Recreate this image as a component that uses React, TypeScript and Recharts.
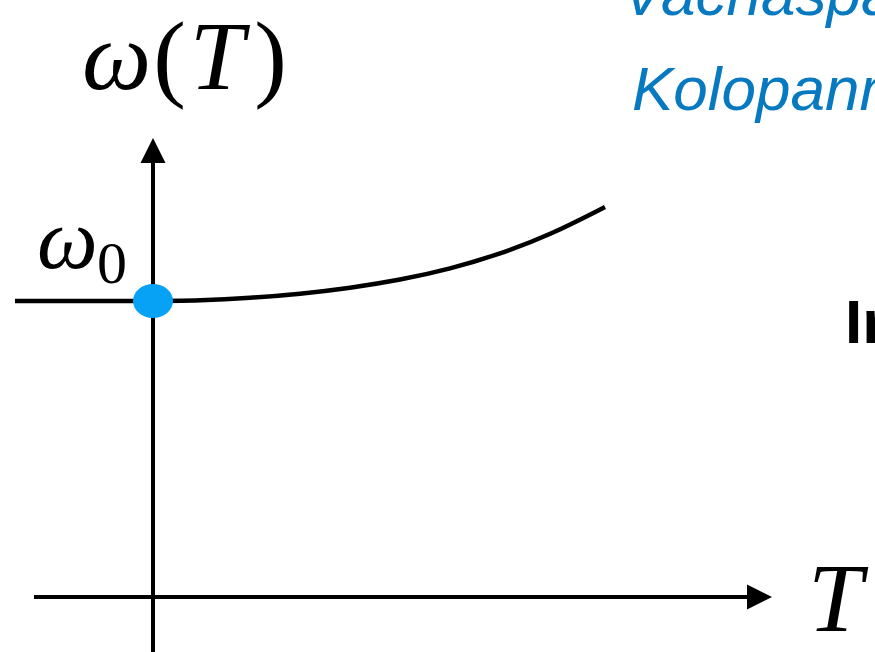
import { LineChart, Line, XAxis, YAxis, ReferenceLine, ReferenceDot, Customized } from 'recharts';

// ─── Curve ω(T): flat at ω0 for T < 0, then rising ───
const temps = [-1.38, 0, 0.47, 0.97, 1.47, 1.97, 2.47, 2.97, 3.47, 3.97, 4.52];
const omegas = [2.96, 2.96, 2.965, 2.99, 3.03, 3.09, 3.17, 3.28, 3.43, 3.62, 3.9];
const omega0 = 2.96;

// axis extents (data units)
const xAxisSpan = [-1.19, 6.19];
const yAxisSpan = [-0.55, 4.59];

const curveData = temps.map((t, i) => ({ t, omega: omegas[i] }));

const W = 875;
const H = 652;
const INK = '#000';

// line with a filled arrowhead at its end
const ArrowLine = (props: any) => {
  const { x1, y1, x2, y2 } = props;
  const len = 25;
  const half = 12.5;
  const dx = x2 - x1;
  const dy = y2 - y1;
  const d = Math.hypot(dx, dy) || 1;
  const ux = dx / d;
  const uy = dy / d;
  const bx = x2 - ux * len;
  const by = y2 - uy * len;
  const px = -uy * half;
  const py = ux * half;
  return (
    <g>
      <line x1={x1} y1={y1} x2={bx + ux * 2} y2={by + uy * 2} stroke={INK} strokeWidth={4} />
      <polygon points={`${x2},${y2} ${bx + px},${by + py} ${bx - px},${by - py}`} fill={INK} />
    </g>
  );
};

const BlueDot = (props: any) => (
  <ellipse cx={props.cx} cy={props.cy} rx={20} ry={17} fill="#07A2F5" />
);

const Labels = () => (
  <g>
    <text x={82} y={89} fontFamily="'Liberation Serif', serif" fontSize={98} fill={INK}>
      <tspan fontStyle="italic">ω</tspan>
      <tspan dx={2}>(</tspan>
      <tspan dx={4} fontStyle="italic">T</tspan>
      <tspan dx={10}>)</tspan>
    </text>
    <text x={37} y={268} fontFamily="'Liberation Serif', serif" fontSize={86} fontStyle="italic" fill={INK}>ω</text>
    <text x={97} y={283} fontFamily="'Liberation Serif', serif" fontSize={60} fill={INK}>0</text>
    <text x={808} y={631} fontFamily="'Liberation Serif', serif" fontSize={98} fontStyle="italic" fill={INK}>T</text>

    <text x={622} y={15} fontFamily="'Liberation Sans', Arial, sans-serif" fontSize={62} fontStyle="italic" fill="#0779C0">Vachaspati</text>
    <text x={632} y={110} fontFamily="'Liberation Sans', Arial, sans-serif" fontSize={62} fontStyle="italic" fill="#0779C0">Kolopanm</text>
    <text x={845} y={343} fontFamily="'Liberation Sans', Arial, sans-serif" fontSize={62} fontWeight="bold" fill={INK}>In</text>
  </g>
);

export default function App() {
  return (
    <div style={{ position: 'absolute', left: 0, top: 0, width: W, height: H, background: '#fff', overflow: 'hidden' }}>
      <LineChart width={W} height={H} data={curveData} margin={{ top: 0, right: 0, bottom: 0, left: 0 }}>
        <XAxis type="number" dataKey="t" domain={[-1.53, 7.22]} allowDataOverflow hide />
        <YAxis type="number" domain={[-0.55, 5.97]} allowDataOverflow hide />

        {/* T axis */}
        <ReferenceLine
          segment={[{ x: xAxisSpan[0], y: 0 }, { x: xAxisSpan[1], y: 0 }]}
          shape={ArrowLine}
          ifOverflow="visible"
        />
        {/* ω axis */}
        <ReferenceLine
          segment={[{ x: 0, y: yAxisSpan[0] }, { x: 0, y: yAxisSpan[1] }]}
          shape={ArrowLine}
          ifOverflow="visible"
        />

        <Line
          type="basis"
          dataKey="omega"
          stroke={INK}
          strokeWidth={4.5}
          dot={false}
          activeDot={false}
          isAnimationActive={false}
        />

        <ReferenceDot x={0} y={omega0} shape={BlueDot} ifOverflow="visible" />
        <Customized component={Labels} />
      </LineChart>
    </div>
  );
}
